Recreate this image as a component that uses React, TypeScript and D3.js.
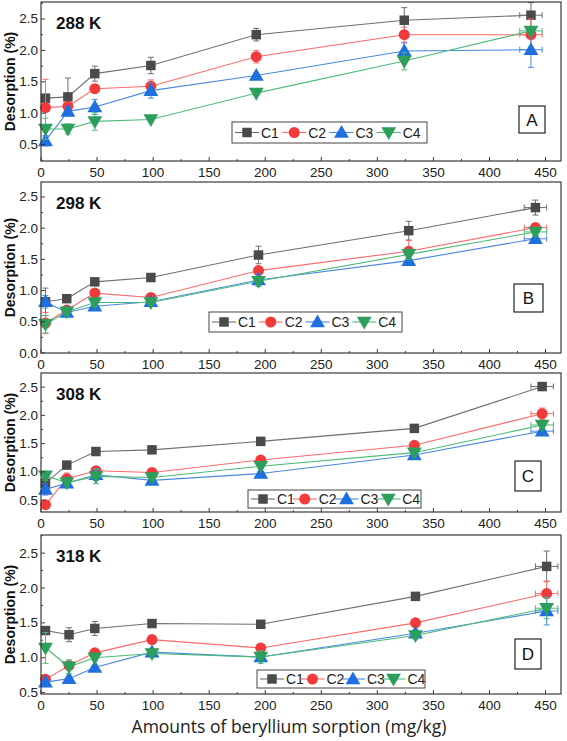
import React from "react";
import * as d3 from "d3";

// ---------- DATA ----------
const seriesNames = ["C1", "C2", "C3", "C4"];
const panelLetters = ["A", "B", "C", "D"];
const panelTemps = ["288 K", "298 K", "308 K", "318 K"];
const xTicks = [0, 50, 100, 150, 200, 250, 300, 350, 400, 450];

const xA = [4, 24, 48, 98, 192, 324, 437];
const xB = [4, 23, 48, 98, 194, 328, 441];
const xC = [4, 23, 49, 99, 196, 333, 447];
const xD = [4, 25, 48, 99, 196, 334, 451];

const A_C1 = [1.24, 1.26, 1.63, 1.76, 2.25, 2.48, 2.56];
const A_C2 = [1.09, 1.11, 1.39, 1.43, 1.9, 2.25, 2.25];
const A_C3 = [0.56, 1.03, 1.1, 1.36, 1.6, 1.99, 2.01];
const A_C4 = [0.75, 0.75, 0.87, 0.9, 1.32, 1.83, 2.31];
const A_C1_err = [0.05, 0.3, 0.12, 0.13, 0.1, 0.2, 0.2];
const A_C2_err = [0.45, 0.06, 0.04, 0.1, 0.1, 0.12, 0.25];
const A_C3_err = [0.08, 0.06, 0.12, 0.12, 0.04, 0.13, 0.28];
const A_C4_err = [0.17, 0.08, 0.14, 0.03, 0.04, 0.14, 0.06];

const B_C1 = [0.82, 0.87, 1.14, 1.21, 1.57, 1.96, 2.33];
const B_C2 = [0.48, 0.69, 0.96, 0.89, 1.32, 1.63, 2.01];
const B_C3 = [0.82, 0.65, 0.75, 0.82, 1.17, 1.48, 1.83];
const B_C4 = [0.46, 0.66, 0.81, 0.81, 1.15, 1.58, 1.94];
const B_C1_err = [0.22, 0.03, 0.03, 0.03, 0.14, 0.15, 0.12];
const B_C2_err = [0.17, 0.05, 0.04, 0.03, 0.05, 0.17, 0.06];
const B_C3_err = [0.1, 0.04, 0.04, 0.03, 0.1, 0.07, 0.05];
const B_C4_err = [0.14, 0.05, 0.06, 0.04, 0.08, 0.08, 0.05];

const C_C1 = [0.8, 1.12, 1.36, 1.39, 1.54, 1.77, 2.51];
const C_C2 = [0.42, 0.88, 1.02, 0.99, 1.21, 1.47, 2.03];
const C_C3 = [0.69, 0.8, 0.95, 0.85, 0.97, 1.3, 1.72];
const C_C4 = [0.93, 0.81, 0.92, 0.9, 1.1, 1.34, 1.83];
const C_C1_err = [0.06, 0.03, 0.03, 0.03, 0.03, 0.05, 0.03];
const C_C2_err = [0.04, 0.1, 0.05, 0.03, 0.04, 0.04, 0.1];
const C_C3_err = [0.1, 0.04, 0.1, 0.04, 0.03, 0.03, 0.05];
const C_C4_err = [0.08, 0.04, 0.13, 0.03, 0.04, 0.04, 0.07];

const D_C1 = [1.39, 1.33, 1.42, 1.49, 1.48, 1.88, 2.31];
const D_C2 = [0.69, 0.89, 1.07, 1.26, 1.14, 1.5, 1.92];
const D_C3 = [0.65, 0.7, 0.86, 1.08, 1.01, 1.35, 1.67];
const D_C4 = [1.14, 0.87, 1.0, 1.06, 1.01, 1.32, 1.71];
const D_C1_err = [0.04, 0.1, 0.1, 0.04, 0.03, 0.03, 0.22];
const D_C2_err = [0.03, 0.05, 0.03, 0.04, 0.03, 0.03, 0.18];
const D_C3_err = [0.03, 0.03, 0.03, 0.05, 0.03, 0.05, 0.2];
const D_C4_err = [0.22, 0.1, 0.04, 0.06, 0.09, 0.05, 0.15];

// horizontal error on the last point (mg/kg)
const lastXErr = [10, 10, 10, 10];

// ---------- STYLE / LAYOUT ----------
const W = 567;
const H = 741;
const LEFT = 41;
const RIGHT = 561;
const X_MAX = 463.8;

const markerColors = ["#4a4a4a", "#f23a3a", "#1f6fe0", "#2e9e5c"];
const lineColors = ["#6e6e6e", "#ff6a6a", "#4a88e0", "#4dbb78"];
const symbols = [d3.symbolSquare, d3.symbolCircle, d3.symbolTriangle, d3.symbolTriangle];
const symbolSizes = [90, 95, 95, 95];
const symbolRot = [0, 0, 0, 180];

const panels = [
  { top: 2, bottom: 161, ymin: 0.24, ymax: 2.77, yTicks: [0.5, 1.0, 1.5, 2.0, 2.5], x: xA,
    ys: [A_C1, A_C2, A_C3, A_C4], errs: [A_C1_err, A_C2_err, A_C3_err, A_C4_err],
    legend: { x: 232, y: 122, w: 195, h: 21 }, box: { x: 519, y: 106, w: 26, h: 27 } },
  { top: 182, bottom: 353, ymin: 0, ymax: 2.74, yTicks: [0.0, 0.5, 1.0, 1.5, 2.0, 2.5], x: xB,
    ys: [B_C1, B_C2, B_C3, B_C4], errs: [B_C1_err, B_C2_err, B_C3_err, B_C4_err],
    legend: { x: 209, y: 312, w: 193, h: 20 }, box: { x: 514, y: 284, w: 29, h: 28 } },
  { top: 373, bottom: 512, ymin: 0.29, ymax: 2.75, yTicks: [0.5, 1.0, 1.5, 2.0, 2.5], x: xC,
    ys: [C_C1, C_C2, C_C3, C_C4], errs: [C_C1_err, C_C2_err, C_C3_err, C_C4_err],
    legend: { x: 248, y: 490, w: 173, h: 18 }, box: { x: 515, y: 461, w: 26, h: 30 } },
  { top: 535, bottom: 694, ymin: 0.48, ymax: 2.76, yTicks: [0.5, 1.0, 1.5, 2.0, 2.5], x: xD,
    ys: [D_C1, D_C2, D_C3, D_C4], errs: [D_C1_err, D_C2_err, D_C3_err, D_C4_err],
    legend: { x: 257, y: 670, w: 168, h: 18 }, box: { x: 515, y: 639, w: 26, h: 30 } },
];

const FONT = "'Liberation Sans', Arial, sans-serif";
const AXIS = "#3a3a3a";

function Marker({ i, x, y }: { i: number; x: number; y: number }) {
  const p = d3.symbol().type(symbols[i]).size(symbolSizes[i])() as string;
  const dy = i === 2 ? 1 : i === 3 ? -1 : 0;
  return (
    <path
      d={p}
      transform={`translate(${x},${y + dy}) rotate(${symbolRot[i]})`}
      fill={markerColors[i]}
    />
  );
}

function Panel({ p, idx }: { p: any; idx: number }) {
  const xs = d3.scaleLinear().domain([0, X_MAX]).range([LEFT, RIGHT]);
  const ys = d3.scaleLinear().domain([p.ymin, p.ymax]).range([p.bottom, p.top]);
  const minorX = d3.range(25, X_MAX, 50);
  const minorY: number[] = [];
  for (let v = 0.25; v < p.ymax; v += 0.5) if (v > p.ymin) minorY.push(v);
  const line = d3
    .line<number>()
    .x((_, k) => xs(p.x[k]))
    .y((d) => ys(d));
  const lg = p.legend;
  const entryW = (lg.w - 6) / 4;
  return (
    <g>
      {/* series */}
      {p.ys.map((vals: number[], i: number) => (
        <g key={i}>
          <path d={line(vals) as string} fill="none" stroke={lineColors[i]} strokeWidth={1.1} />
          {vals.map((v, k) => {
            const e = p.errs[i][k];
            const cx = xs(p.x[k]);
            const y1 = ys(v + e);
            const y2 = ys(v - e);
            const last = k === vals.length - 1;
            const xe = lastXErr[idx];
            return (
              <g key={k} stroke={lineColors[i]} strokeWidth={1}>
                <line x1={cx} x2={cx} y1={y1} y2={y2} />
                <line x1={cx - 3} x2={cx + 3} y1={y1} y2={y1} />
                <line x1={cx - 3} x2={cx + 3} y1={y2} y2={y2} />
                {last && (
                  <g>
                    <line x1={xs(p.x[k] - xe)} x2={xs(p.x[k] + xe)} y1={ys(v)} y2={ys(v)} />
                    <line x1={xs(p.x[k] - xe)} x2={xs(p.x[k] - xe)} y1={ys(v) - 3} y2={ys(v) + 3} />
                    <line x1={xs(p.x[k] + xe)} x2={xs(p.x[k] + xe)} y1={ys(v) - 3} y2={ys(v) + 3} />
                  </g>
                )}
              </g>
            );
          })}
          {vals.map((v, k) => (
            <Marker key={k} i={i} x={xs(p.x[k])} y={ys(v)} />
          ))}
        </g>
      ))}
      {/* frame */}
      <rect x={LEFT} y={p.top} width={RIGHT - LEFT} height={p.bottom - p.top} fill="none" stroke={AXIS} strokeWidth={1.2} />
      {/* x ticks */}
      {xTicks.map((t) => (
        <g key={t}>
          <line x1={xs(t)} x2={xs(t)} y1={p.bottom} y2={p.bottom - 4} stroke={AXIS} />
          <text x={xs(t)} y={p.bottom + 16} textAnchor="middle" fontSize={13.5} fontFamily={FONT} fill="#222">
            {t}
          </text>
        </g>
      ))}
      {minorX.map((t) => (
        <line key={t} x1={xs(t)} x2={xs(t)} y1={p.bottom} y2={p.bottom - 2} stroke={AXIS} />
      ))}
      {/* y ticks */}
      {p.yTicks.map((t: number) => (
        <g key={t}>
          <line x1={LEFT} x2={LEFT + 4} y1={ys(t)} y2={ys(t)} stroke={AXIS} />
          <text x={LEFT - 3} y={ys(t) + 4.5} textAnchor="end" fontSize={13.5} fontFamily={FONT} fill="#222">
            {t.toFixed(1)}
          </text>
        </g>
      ))}
      {minorY.map((t) => (
        <line key={t} x1={LEFT} x2={LEFT + 2} y1={ys(t)} y2={ys(t)} stroke={AXIS} />
      ))}
      {/* y title */}
      <text
        transform={`translate(15,${(p.top + p.bottom) / 2}) rotate(-90)`}
        textAnchor="middle"
        fontSize={14}
        fontWeight="bold"
        fontFamily={FONT}
        fill="#111"
      >
        Desorption (%)
      </text>
      {/* temperature */}
      <text x={56} y={p.top + 27} fontSize={17} fontWeight="bold" fontFamily={FONT} fill="#111">
        {panelTemps[idx]}
      </text>
      {/* letter box */}
      <rect x={p.box.x} y={p.box.y} width={p.box.w} height={p.box.h} fill="#fff" stroke="#222" strokeWidth={1.2} />
      <text x={p.box.x + p.box.w / 2} y={p.box.y + p.box.h / 2 + 6} textAnchor="middle" fontSize={17} fontFamily={FONT} fill="#111">
        {panelLetters[idx]}
      </text>
      {/* legend */}
      <rect x={lg.x} y={lg.y} width={lg.w} height={lg.h} fill="#fff" stroke="#444" strokeWidth={1} />
      {seriesNames.map((s, i) => {
        const ex = lg.x + 3 + i * entryW;
        const cy = lg.y + lg.h / 2;
        return (
          <g key={s}>
            <line x1={ex} x2={ex + 24} y1={cy} y2={cy} stroke={lineColors[i]} strokeWidth={1.1} />
            <Marker i={i} x={ex + 12} y={cy} />
            <text x={ex + 26} y={cy + 5} fontSize={14} fontFamily={FONT} fill="#222">
              {s}
            </text>
          </g>
        );
      })}
    </g>
  );
}

export default function App() {
  return (
    <div style={{ position: "absolute", left: 0, top: 0 }}>
      <svg width={W} height={H} style={{ display: "block", background: "#fff" }}>
        {panels.map((p, i) => (
          <Panel key={i} p={p} idx={i} />
        ))}
        <text x={289} y={733} textAnchor="middle" fontSize={17.5} fontFamily="'Open Sans', 'Noto Sans', sans-serif" fill="#222">
          Amounts of beryllium sorption (mg/kg)
        </text>
      </svg>
    </div>
  );
}
